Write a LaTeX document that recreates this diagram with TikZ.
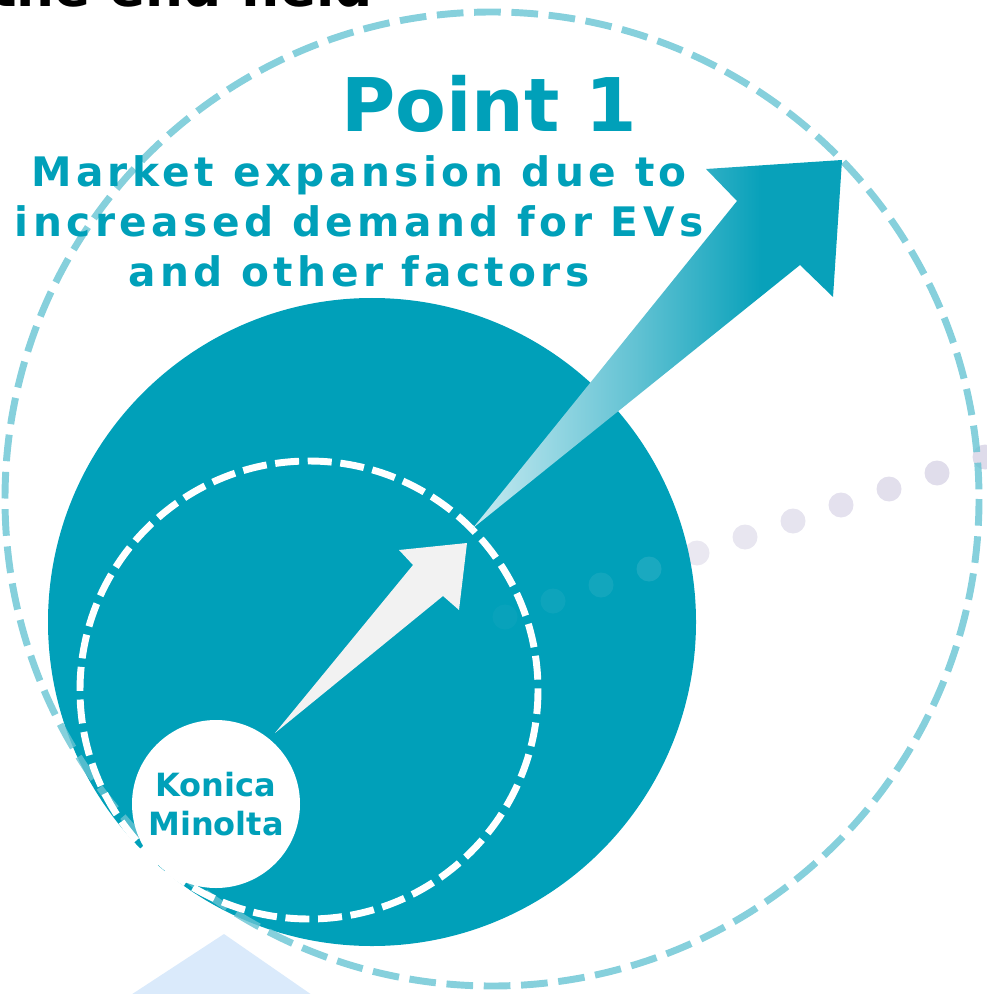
\documentclass[tikz,border=0pt]{standalone}
\usepackage{fontspec}
\setmainfont{DejaVu Sans}
\newfontfamily\spacedfont{DejaVu Sans}[LetterSpace=11]
\definecolor{teal1}{RGB}{0,160,185}
\definecolor{ldash}{RGB}{104,196,211}
\definecolor{tri}{RGB}{218,234,251}
\definecolor{warr}{RGB}{242,242,242}
\definecolor{lav}{RGB}{222,219,234}
\definecolor{lavlight}{RGB}{238,237,244}
\definecolor{arrlight}{RGB}{198,234,241}
\definecolor{arrmid}{RGB}{98,194,211}
\definecolor{arrteal}{RGB}{8,161,186}
\pgfdeclarehorizontalshading{arrowshade}{100bp}{color(0bp)=(arrlight); color(25bp)=(arrlight); color(47bp)=(arrmid); color(64bp)=(arrteal); color(100bp)=(arrteal)}
\tikzset{
  lightring/.style={draw=ldash, draw opacity=0.8, line width=5.2pt, dash pattern=on 20pt off 8pt},
  whitering/.style={draw=white, line width=5.2pt, dash pattern=on 18pt off 6.5pt},
  dotlav/.style={fill=lav!#1!lavlight},
  txtteal/.style={text=teal1, inner sep=0pt},
  subtxt/.style={anchor=base, txtteal, font=\spacedfont\bfseries\fontsize{30.5}{37.5}\selectfont},
}
\begin{document}
\begin{tikzpicture}[x=0.75pt,y=-0.75pt]
\useasboundingbox (0,0) rectangle (986,994);
% bottom light triangle
\fill[tri] (224,934) -- (117,1004) -- (325,1004) -- cycle;
% dotted trail
\foreach \i in {0,...,10}{
  \pgfmathtruncatemacro\pct{100-\i*12}
  \fill[dotlav=\pct] ({985-48*\i},{457+16*\i}) circle[radius=12.5];
}
% big teal disc
\fill[teal1] (372,622) circle[radius=324];
% faint dots inside the disc
\foreach \i/\op in {7/0.10,8/0.07,9/0.05,10/0.03}{
  \fill[white, fill opacity=\op] ({985-48*\i},{457+16*\i}) circle[radius=12.5];
}
% outer light dashed ring
\draw[lightring] (492,499) circle[radius=487];
% inner white dashed ring
\draw[whitering] (309,690) circle[radius=229];
% Konica Minolta disc
\node[circle, fill=white, minimum size=126pt, inner sep=0pt, align=center,
      text=teal1, font=\bfseries\fontsize{24}{29}\selectfont] (km) at (216,804) {Konica\\Minolta};
% white arrow
\fill[warr] (275,733) -- (413,565) -- (399,550) -- (467,543) -- (459,610) -- (443,596) -- cycle;
% gradient arrow
\shade[shading=arrowshade] (473,528) -- (737,201) -- (706,169) -- (842,160) -- (833,297) -- (800,265) -- cycle;
% texts
\node[anchor=base east, inner sep=0pt, font=\bfseries\fontsize{40}{48}\selectfont] (ttl) at (373,7) {the end field};
\node[anchor=base, txtteal, font=\bfseries\fontsize{55.5}{60}\selectfont] (p1) at (489,132) {Point 1};
\node[subtxt] (s1) at (359,187) {Market expansion due to};
\node[subtxt] (s2) at (359,237) {increased demand for EVs};
\node[subtxt] (s3) at (359,287) {and other factors};
\end{tikzpicture}
\end{document}
